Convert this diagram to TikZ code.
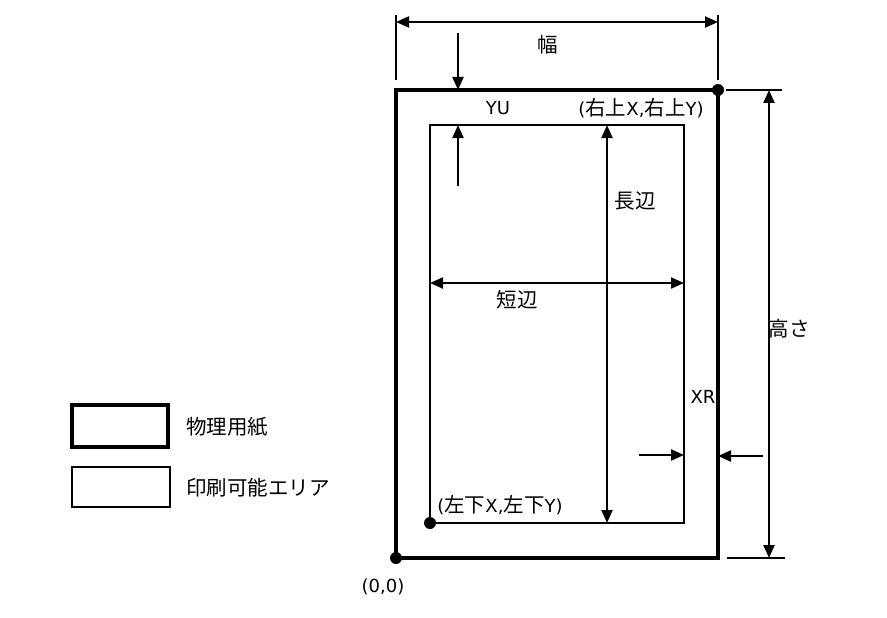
\documentclass[tikz,border=0pt]{standalone}
\usepackage{fontspec}
\setmainfont{DejaVu Sans}
\newfontfamily\jpfont{Noto Sans CJK JP}
\usetikzlibrary{arrows.meta}
\newcommand{\J}[1]{{\jpfont\fontsize{20.5pt}{22pt}\selectfont #1}}
\tikzset{
  paper/.style={line width=4pt},
  area/.style={line width=2pt},
  tip/.tip={Triangle[length=13pt,width=11pt]},
  dim/.style={line width=2pt, -tip},
  dimboth/.style={line width=2pt, tip-tip},
  ext/.style={line width=2pt},
  lbl/.style={inner sep=0pt, font=\fontsize{18pt}{21pt}\selectfont},
  dot/.style={circle, fill=black, inner sep=0pt, minimum size=12pt}
}
\begin{document}
\begin{tikzpicture}[x=1pt,y=-1pt]
\useasboundingbox (0,0) rectangle (887,618);
% corners
\coordinate (pLL) at (396,558);
\coordinate (pUR) at (718,90);
\coordinate (aLL) at (430,523);
\coordinate (aUR) at (684,125);
% physical paper and printable area
\draw[paper] (pLL) rectangle (pUR);
\draw[area] (aLL) rectangle (aUR);
\node[dot] (d0) at (pLL) {};
\node[dot] (d1) at (pUR) {};
\node[dot] (d2) at (aLL) {};
% width dimension
\coordinate (w1) at (396,15);
\coordinate (w1b) at (396,80);
\coordinate (w2) at (718,15);
\coordinate (w2b) at (718,80);
\draw[ext] (w1) -- (w1b);
\draw[ext] (w2) -- (w2b);
\coordinate (wa) at (396,22);
\coordinate (wb) at (718,22);
\draw[dimboth] (wa) -- (wb);
\node[lbl] (haba) at (548,45) {\J{幅}};
% YU
\coordinate (yu1) at (458,33);
\coordinate (yu1e) at (458,90);
\coordinate (yu2) at (458,186);
\coordinate (yu2e) at (458,125);
\draw[dim] (yu1) -- (yu1e);
\draw[dim] (yu2) -- (yu2e);
\node[lbl] (yu) at (498,108) {YU};
\node[lbl] (ur) at (641,108) {(\J{右上}X,\J{右上}Y)};
% long side
\coordinate (l1) at (607,125);
\coordinate (l2) at (607,523);
\draw[dimboth] (l1) -- (l2);
\node[lbl] (long) at (635,201) {\J{長辺}};
% short side
\coordinate (s1) at (430,283);
\coordinate (s2) at (684,283);
\draw[dimboth] (s1) -- (s2);
\node[lbl] (short) at (517,300) {\J{短辺}};
% height
\coordinate (h1) at (726,90);
\coordinate (h1b) at (782,90);
\coordinate (h2) at (727,558);
\coordinate (h2b) at (785,558);
\draw[ext] (h1) -- (h1b);
\draw[ext] (h2) -- (h2b);
\coordinate (ha) at (769,90);
\coordinate (hb) at (769,558);
\draw[dimboth] (ha) -- (hb);
\node[lbl] (takasa) at (789,329) {\J{高さ}};
% XR
\coordinate (xr1) at (639,455);
\coordinate (xr1e) at (684,455);
\coordinate (xr2) at (763,456);
\coordinate (xr2e) at (718,456);
\draw[dim] (xr1) -- (xr1e);
\draw[dim] (xr2) -- (xr2e);
\node[lbl] (xr) at (703,397) {XR};
% corner labels
\node[lbl] (ll) at (500,505) {(\J{左下}X,\J{左下}Y)};
\node[lbl] (origin) at (383,587) {(0,0)};
% legend
\draw[paper] (72,405) rectangle (168,447);
\draw[area] (72,467) rectangle (170,507);
\node[lbl, anchor=west] (leg1) at (186,427) {\J{物理用紙}};
\node[lbl, anchor=west] (leg2) at (186,488) {\J{印刷可能エリア}};
\end{tikzpicture}
\end{document}
